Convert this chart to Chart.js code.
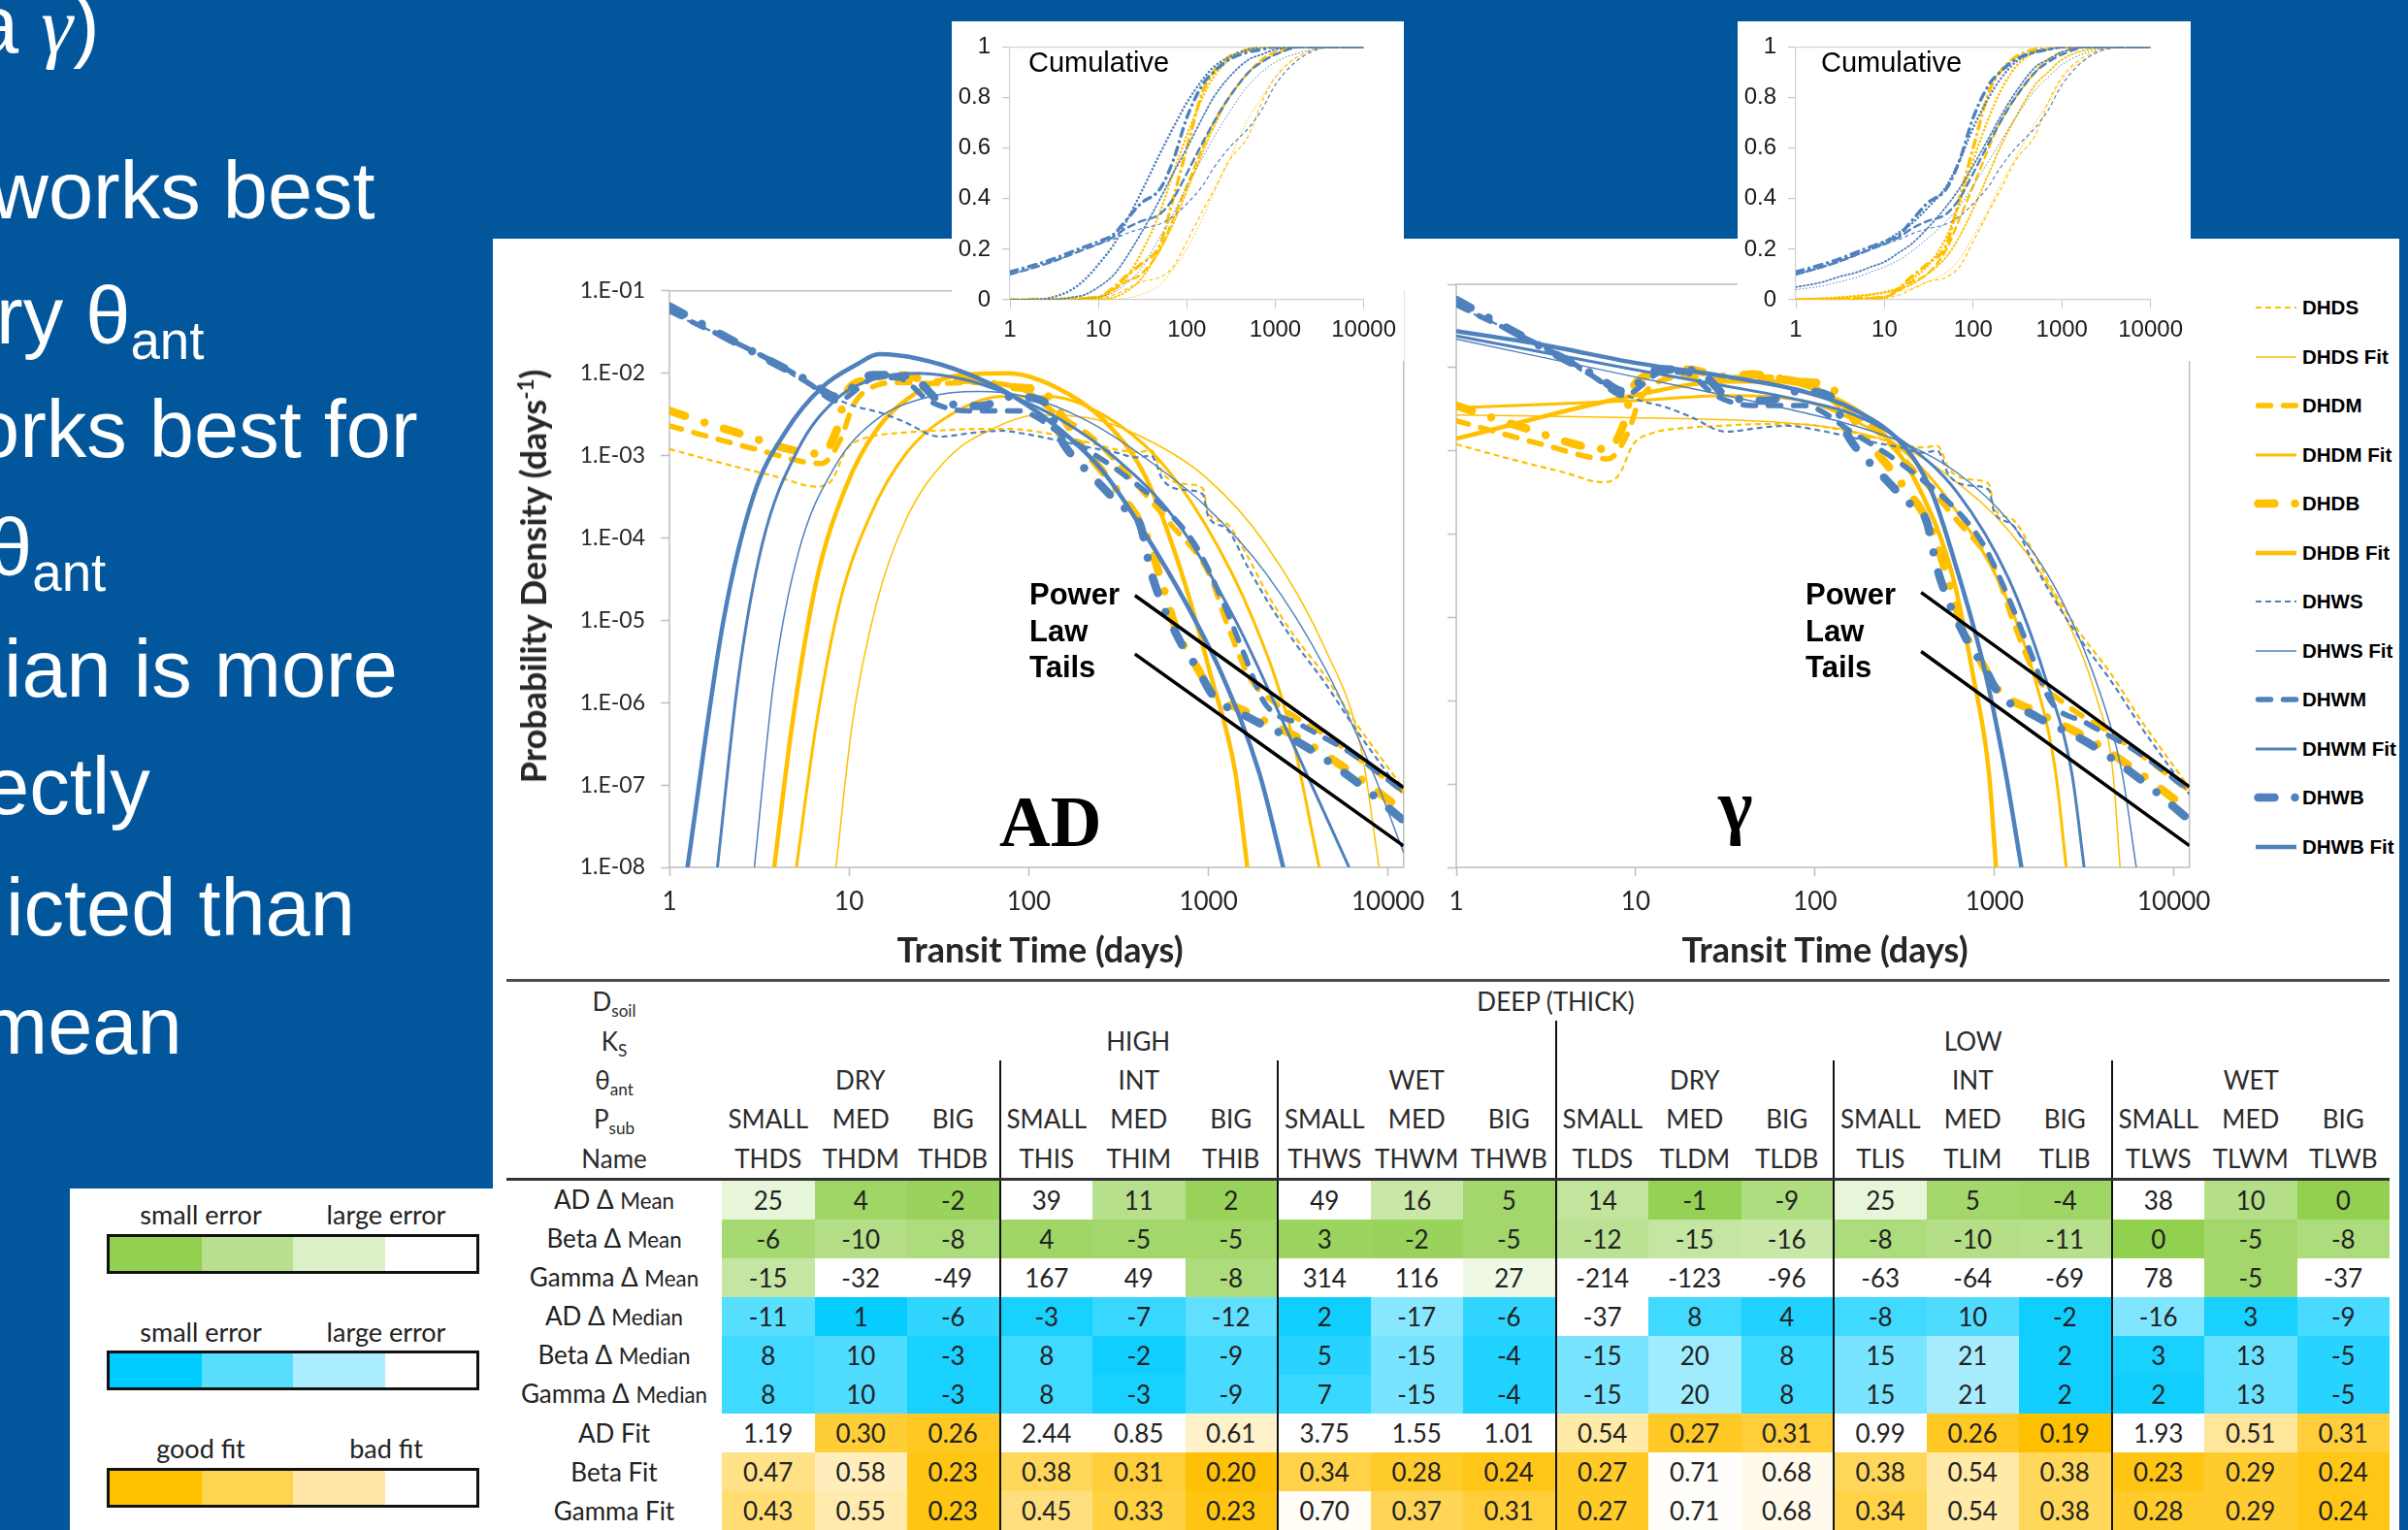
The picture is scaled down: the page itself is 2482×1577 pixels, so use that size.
<!DOCTYPE html>
<html>
<head>
<meta charset="utf-8">
<title>Transit time distributions</title>
<script src="https://cdn.jsdelivr.net/npm/chart.js@4.4.1/dist/chart.umd.min.js"></script>
<style>
  html, body { margin: 0; padding: 0; }
  body { width: 2482px; height: 1577px; background: #02569b; position: relative; overflow: hidden;
         font-family: 'Liberation Sans', Arial, sans-serif; }
  .white { position: absolute; background: #fff; }
  .bullet { position: absolute; color: #fff; font-size: 83px; line-height: 83px; white-space: nowrap; }
  .bullet sub { font-size: 0.66em; vertical-align: -0.3em; line-height: 0; }
  canvas { position: absolute; }
  .axisTitle { position: absolute; font: bold 36px Lato, 'Noto Sans', sans-serif; color: #262626;
               white-space: nowrap; transform: translate(-50%, -50%); }
  .axisTitle sup { font-size: 0.62em; vertical-align: 0.6em; line-height: 0; }
  .power { position: absolute; font: bold 31px/37.5px 'Liberation Sans', Arial, sans-serif; color: #000; }
  .bigLabel { position: absolute; font: bold 73px/73px 'Liberation Serif', 'Times New Roman', serif; color: #000; }
  .cumLabel { position: absolute; font: 29px/29px 'Liberation Sans', Arial, sans-serif; color: #000; }
  .legItem { position: absolute; left: 2320px; height: 30px; display: flex; align-items: center;
             font: bold 20.5px 'Liberation Sans', Arial, sans-serif; color: #000; white-space: nowrap; }
  .legItem svg { width: 52px; height: 30px; flex: none; }
  #tbl { position: absolute; left: 522px; top: 1009px; border-collapse: collapse; table-layout: fixed;
         width: 1941px; font-family: Lato, 'Noto Sans', sans-serif; font-size: 26px; color: #222; }
  #tbl td { padding: 0; text-align: center; white-space: nowrap; height: 40px; line-height: 26px; overflow: hidden; }
  #tbl tr.head td { height: 40.4px; color: #2b2b2b; }
  #tbl tr.first td { border-top: 3px solid #4d4d4d; }
  #tbl tr.names td { border-bottom: 3px solid #333; }
  #tbl tr.last td { border-bottom: 2px solid #7a7a7a; }
  #tbl td.g { border-left: 2.5px solid #111; }
  #tbl sub { font-size: 0.66em; vertical-align: -0.35em; line-height: 0; }
  #tbl .small { font-size: 0.86em; }
  .scaleText { position: absolute; font: 27px/27px Lato, 'Noto Sans', sans-serif; color: #222;
               transform: translateX(-50%); white-space: nowrap; }
  .scaleBar { position: absolute; left: 110px; width: 384px; height: 41px; box-sizing: border-box;
              border: 3px solid #111; display: flex; }
  .scaleBar div { flex: 1; }
</style>
</head>
<body>

<!-- slide text, cut at the left edge -->
<div class="bullet" style="left:-27px; top:-16px;">a <span style="font-family:'Liberation Serif',serif;font-style:italic;">γ</span>)</div>
<div class="bullet" style="left:-10px; top:155px;">works best</div>
<div class="bullet" style="left:-4px; top:284px;">ry θ<sub>ant</sub></div>
<div class="bullet" style="left:-26px; top:401px;">orks best for</div>
<div class="bullet" style="left:-13px; top:523px;">θ<sub>ant</sub></div>
<div class="bullet" style="left:4px; top:648px;">ian is more</div>
<div class="bullet" style="left:-16px; top:769px;">ectly</div>
<div class="bullet" style="left:6px; top:894px;">icted than</div>
<div class="bullet" style="left:-20px; top:1016px;">mean</div>

<!-- white panels -->
<div class="white" style="left:508px; top:246px; width:1965px; height:1331px;"></div>
<div class="white" style="left:72px; top:1225px; width:440px; height:352px;"></div>

<canvas id="adChart" width="920" height="700" style="left:560px; top:270px;"></canvas>
<canvas id="gammaChart" width="820" height="700" style="left:1470px; top:270px;"></canvas>
<canvas id="adCum" width="466" height="350" style="left:981px; top:22px; background:#fff;"></canvas>
<canvas id="gammaCum" width="467" height="350" style="left:1791px; top:22px; background:#fff;"></canvas>

<div class="cumLabel" style="left:1060px; top:50px;">Cumulative</div>
<div class="cumLabel" style="left:1877px; top:50px;">Cumulative</div>

<div class="axisTitle" style="left:549px; top:594px; transform:translate(-50%,-50%) rotate(-90deg);">Probability Density (days<sup>-1</sup>)</div>
<div class="axisTitle" style="left:1072px; top:978px;">Transit Time (days)</div>
<div class="axisTitle" style="left:1881px; top:978px;">Transit Time (days)</div>

<div class="power" style="left:1061px; top:594px;">Power<br>Law<br>Tails</div>
<div class="power" style="left:1861px; top:594px;">Power<br>Law<br>Tails</div>
<div class="bigLabel" style="left:1030px; top:811px;">AD</div>
<div class="bigLabel" style="left:1771px; top:792px; font-size:76px; line-height:76px;">γ</div>

<div id="legend"></div>
<table id="tbl"></table>

<!-- colour keys -->
<div class="scaleText" style="left:207px; top:1238px;">small error</div>
<div class="scaleText" style="left:398px; top:1238px;">large error</div>
<div class="scaleBar" style="top:1272px;"><div style="background:#92d050"></div><div style="background:#b9e08f"></div><div style="background:#dcefc6"></div><div style="background:#fff"></div></div>
<div class="scaleText" style="left:207px; top:1359px;">small error</div>
<div class="scaleText" style="left:398px; top:1359px;">large error</div>
<div class="scaleBar" style="top:1392px;"><div style="background:#00ccff"></div><div style="background:#57deff"></div><div style="background:#aaeeff"></div><div style="background:#fff"></div></div>
<div class="scaleText" style="left:207px; top:1479px;">good fit</div>
<div class="scaleText" style="left:398px; top:1479px;">bad fit</div>
<div class="scaleBar" style="top:1513px;"><div style="background:#ffc000"></div><div style="background:#ffd54f"></div><div style="background:#ffe8a7"></div><div style="background:#fff"></div></div>

<script>
// ---------- chart data ----------
const seriesNames = ['DHDS', 'DHDS Fit', 'DHDM', 'DHDM Fit', 'DHDB', 'DHDB Fit',
                     'DHWS', 'DHWS Fit', 'DHWM', 'DHWM Fit', 'DHWB', 'DHWB Fit'];
const xTickValues = [1, 10, 100, 1000, 10000];
const xTickLabels = ['1', '10', '100', '1000', '10000'];
const yTickValues = [1e-8, 1e-7, 1e-6, 1e-5, 1e-4, 1e-3, 1e-2, 1e-1];
const yTickLabels = ['1.E-08', '1.E-07', '1.E-06', '1.E-05', '1.E-04', '1.E-03', '1.E-02', '1.E-01'];
const cumTickValues = [0, 0.2, 0.4, 0.6, 0.8, 1];
const cumTickLabels = ['0', '0.2', '0.4', '0.6', '0.8', '1'];

// simulated densities (transit time in days, density in 1/days) - same in both panels
const dhdsT = [1, 2, 4, 6.5, 8, 9.7, 12, 20, 30, 50, 80, 120, 200, 300, 400, 480, 560, 760, 930, 1000, 1260, 1650, 2100, 3000, 4400, 6500, 12200];
const dhdsP = [1.2e-3, 8e-4, 5.5e-4, 4.2e-4, 5e-4, 1.2e-3, 1.6e-3, 1.9e-3, 2e-3, 2.1e-3, 2.1e-3, 1.9e-3, 1.5e-3, 1.2e-3, 1.1e-3, 1.15e-3, 6e-4, 4.5e-4, 4e-4, 2e-4, 1.5e-4, 6e-5, 2.2e-5, 6.5e-6, 2.2e-6, 6e-7, 9e-8];
const dhdmT = [1, 3, 7, 9, 10.5, 13.5, 19, 30, 45, 86, 146, 230, 345, 620, 1000, 1300, 1700, 2500, 4500, 12200];
const dhdmP = [2.3e-3, 1.2e-3, 8e-4, 1.6e-3, 4e-3, 6.8e-3, 7.7e-3, 7.5e-3, 7.7e-3, 6.8e-3, 3.1e-3, 1.6e-3, 6.3e-4, 1.45e-4, 3.8e-5, 7.9e-6, 2e-6, 9e-7, 4e-7, 8.3e-8];
const dhdbT = [1, 2.2, 7, 8.5, 9.7, 12.6, 19, 32, 45, 80, 120, 146, 204, 300, 450, 550, 665, 870, 1050, 1700, 3260, 6300, 12200];
const dhdbP = [3.5e-3, 2e-3, 1.05e-3, 2e-3, 5.9e-3, 8.3e-3, 9.5e-3, 7.8e-3, 8.3e-3, 6.8e-3, 6e-3, 3.5e-3, 1.2e-3, 4.2e-4, 1.1e-4, 2.9e-5, 7.6e-6, 2.6e-6, 1.35e-6, 7.4e-7, 3.6e-7, 1.4e-7, 4.8e-8];
const dhwsT = [1, 3, 6, 10, 15, 20, 32, 50, 70, 100, 150, 200, 300, 400, 480, 560, 760, 930, 1000, 1260, 1650, 2100, 3000, 4400, 6500, 12200];
const dhwsP = [0.055, 0.018, 0.0072, 0.0042, 0.0033, 0.0026, 0.0017, 0.0019, 0.002, 0.0018, 0.0015, 0.0013, 1.1e-3, 9.5e-4, 1.0e-3, 5e-4, 3.8e-4, 3.4e-4, 1.8e-4, 1.3e-4, 4.5e-5, 1.8e-5, 5.5e-6, 1.8e-6, 5e-7, 7.5e-8];
const dhwmT = [1, 4.4, 6.1, 8.5, 14.4, 19, 28, 45, 86, 166, 323, 620, 870, 1200, 1580, 2050, 3260, 6300, 12200];
const dhwmP = [0.057, 0.0115, 7.3e-3, 4.6e-3, 8.9e-3, 8.7e-3, 4.6e-3, 3.5e-3, 3.5e-3, 1.6e-3, 6.3e-4, 1.9e-4, 7.4e-5, 1.7e-5, 3.9e-6, 1.0e-6, 5.4e-7, 2.4e-7, 8.3e-8];
const dhwbT = [1, 3.1, 6.1, 8.5, 13.5, 19, 24.5, 32, 54, 80, 120, 156, 230, 323, 417, 480, 710, 870, 1050, 1700, 3260, 6300, 12200];
const dhwbP = [0.065, 0.017, 7.8e-3, 5.2e-3, 9.5e-3, 9.5e-3, 7.8e-3, 4.6e-3, 4e-3, 5.2e-3, 4.6e-3, 1.4e-3, 5.4e-4, 2.5e-4, 1.45e-4, 3.8e-5, 5.1e-6, 2.6e-6, 1.26e-6, 6.5e-7, 3.2e-7, 1.2e-7, 3.7e-8];

// advection-dispersion fits (left panel)
const adDhdsT = [8.45, 10.4, 14.1, 20.7, 35.5, 65.6, 112, 207, 447, 962, 2075, 4467, 7079, 8913];
const adDhdsP = [1e-8, 5.4e-7, 1.5e-5, 1.66e-4, 9.3e-4, 2.2e-3, 3.1e-3, 2.9e-3, 1.6e-3, 5.5e-4, 8.5e-5, 4.5e-6, 2.75e-7, 1e-8];
const adDhdmT = [5.09, 6.56, 8.91, 13.1, 20.7, 38.3, 70.8, 131, 261, 521, 962, 1778, 2818, 4140];
const adDhdmP = [1e-8, 5.4e-7, 1.7e-5, 1.86e-4, 1.05e-3, 3.3e-3, 5.2e-3, 5.2e-3, 3.1e-3, 9.3e-4, 1.45e-4, 1e-5, 5.4e-7, 1e-8];
const adDhdbT = [3.83, 4.82, 6.56, 9.62, 14.1, 24.2, 41.4, 76.4, 141, 261, 447, 708, 1040, 1413, 1648];
const adDhdbP = [1e-8, 5.4e-7, 2.9e-5, 4.2e-4, 2.0e-3, 6.0e-3, 9.5e-3, 1.0e-2, 6.8e-3, 2.7e-3, 5.5e-4, 3.8e-5, 2.0e-6, 1.4e-7, 1e-8];
const adDhwsT = [2.97, 3.83, 5.21, 8.26, 14.1, 28.2, 52.1, 96.2, 207, 447, 962, 2075, 4467, 8260, 12200];
const adDhwsP = [1e-8, 2.0e-6, 6.5e-5, 7.1e-4, 2.7e-3, 5.2e-3, 6.0e-3, 5.2e-3, 2.7e-3, 9.3e-4, 2.45e-4, 3.8e-5, 2.6e-6, 1.4e-7, 1.5e-8];
const adDhwmT = [1.85, 2.42, 3.29, 5.21, 8.26, 14.1, 24.2, 44.7, 82.6, 152, 304, 656, 1413, 3041, 6067];
const adDhwmP = [1e-8, 2.0e-6, 8.5e-5, 1.2e-3, 4.6e-3, 8.7e-3, 1.0e-2, 8.3e-3, 5.2e-3, 2.7e-3, 9.3e-4, 1.66e-4, 1e-5, 2.75e-7, 1e-8];
const adDhwbT = [1.26, 2.0, 2.93, 4.47, 7.1, 11.2, 14.7, 24.2, 44.7, 82.5, 152, 261, 447, 764, 1211, 1919, 2610];
const adDhwbP = [1e-8, 1e-5, 3.2e-4, 2.0e-3, 6.8e-3, 1.3e-2, 1.7e-2, 1.5e-2, 1.0e-2, 5.2e-3, 2.0e-3, 6.3e-4, 1.1e-4, 1.5e-5, 2.0e-6, 1.4e-7, 1e-8];

// gamma fits (right panel)
const gmDhdsT = [1, 9.7, 62, 166, 324, 617, 1200, 2340, 3720, 4570, 5010];
const gmDhdsP = [2.7e-3, 2.5e-3, 2.2e-3, 1.7e-3, 1.05e-3, 4.2e-4, 1.1e-4, 1.3e-5, 1.05e-6, 1.4e-7, 1e-8];
const gmDhdmT = [1, 9.7, 32, 85, 166, 324, 617, 1200, 1660, 2190, 2510];
const gmDhdmP = [3.3e-3, 4.0e-3, 4.6e-3, 4.0e-3, 2.3e-3, 9.3e-4, 1.86e-4, 1.5e-5, 2.0e-6, 1.4e-7, 1e-8];
const gmDhdbT = [1, 9.7, 32, 62, 120, 230, 390, 590, 760, 930, 1020];
const gmDhdbP = [1.4e-3, 4.6e-3, 6.8e-3, 6.8e-3, 4.6e-3, 1.8e-3, 3.2e-4, 2.9e-5, 2.0e-6, 1.4e-7, 1e-8];
const gmDhwsT = [1, 9.7, 32, 85, 166, 324, 617, 1200, 2340, 3980, 5130, 6170];
const gmDhwsP = [2.2e-2, 7.8e-3, 4.6e-3, 2.9e-3, 2.0e-3, 1.2e-3, 5.5e-4, 1.45e-4, 1.7e-5, 1.05e-6, 1.4e-7, 1e-8];
const gmDhwmT = [1, 9.7, 32, 85, 166, 324, 617, 1200, 1905, 2690, 3160];
const gmDhwmP = [2.4e-2, 9.5e-3, 6.0e-3, 4.0e-3, 2.7e-3, 1.2e-3, 3.2e-4, 2.9e-5, 2.0e-6, 1.4e-7, 1e-8];
const gmDhwbT = [1, 3.1, 9.7, 32, 85, 166, 324, 447, 617, 871, 1122, 1413];
const gmDhwbP = [2.75e-2, 1.86e-2, 1.15e-2, 7.8e-3, 5.2e-3, 3.1e-3, 1.05e-3, 3.2e-4, 3.8e-5, 2.6e-6, 1.9e-7, 1e-8];

// power-law guide lines
const powerT = [390, 12200];
const powerUpperP = [2.0e-5, 9.3e-8];
const powerLowerP = [3.9e-6, 1.82e-8];

// cumulative curves (insets)
const cumT = [1, 2, 3, 5, 7, 10, 15, 20, 30, 50, 70, 100, 150, 200, 300, 500, 700, 1000, 2000, 5000, 10000];
const cumDhds = [0, 0.001, 0.002, 0.003, 0.004, 0.006, 0.02, 0.04, 0.07, 0.09, 0.13, 0.23, 0.35, 0.43, 0.55, 0.65, 0.78, 0.88, 0.97, 1, 1];
const cumDhdm = [0, 0.002, 0.003, 0.005, 0.007, 0.01, 0.04, 0.07, 0.1, 0.2, 0.32, 0.45, 0.6, 0.7, 0.8, 0.9, 0.95, 0.98, 1, 1, 1];
const cumDhdb = [0, 0.002, 0.003, 0.005, 0.007, 0.01, 0.05, 0.09, 0.14, 0.22, 0.4, 0.6, 0.82, 0.9, 0.96, 0.99, 1, 1, 1, 1, 1];
const cumDhws = [0.1, 0.13, 0.15, 0.18, 0.2, 0.22, 0.24, 0.26, 0.28, 0.3, 0.33, 0.38, 0.45, 0.52, 0.6, 0.68, 0.75, 0.85, 0.96, 1, 1];
const cumDhwm = [0.1, 0.13, 0.15, 0.18, 0.2, 0.22, 0.25, 0.28, 0.31, 0.34, 0.4, 0.5, 0.62, 0.7, 0.8, 0.9, 0.94, 0.97, 1, 1, 1];
const cumDhwb = [0.11, 0.14, 0.16, 0.19, 0.21, 0.23, 0.26, 0.31, 0.38, 0.44, 0.55, 0.72, 0.85, 0.9, 0.95, 0.98, 0.99, 1, 1, 1, 1];
const cumAdDhds = [0, 0, 0, 0, 0, 0, 0.002, 0.006, 0.02, 0.06, 0.12, 0.2, 0.32, 0.42, 0.55, 0.72, 0.8, 0.88, 0.97, 1, 1];
const cumAdDhdm = [0, 0, 0, 0, 0, 0.003, 0.01, 0.03, 0.08, 0.2, 0.3, 0.43, 0.58, 0.68, 0.8, 0.9, 0.94, 0.97, 1, 1, 1];
const cumAdDhdb = [0, 0, 0, 0, 0.003, 0.01, 0.04, 0.08, 0.18, 0.35, 0.5, 0.65, 0.8, 0.88, 0.95, 0.99, 1, 1, 1, 1, 1];
const cumAdDhws = [0, 0, 0, 0, 0.005, 0.01, 0.03, 0.06, 0.12, 0.25, 0.34, 0.45, 0.56, 0.64, 0.74, 0.85, 0.9, 0.94, 0.98, 1, 1];
const cumAdDhwm = [0, 0, 0, 0.01, 0.02, 0.05, 0.1, 0.16, 0.26, 0.4, 0.5, 0.6, 0.72, 0.8, 0.88, 0.95, 0.97, 0.99, 1, 1, 1];
const cumAdDhwb = [0, 0.001, 0.01, 0.04, 0.08, 0.14, 0.22, 0.3, 0.42, 0.58, 0.68, 0.78, 0.87, 0.92, 0.96, 0.99, 1, 1, 1, 1, 1];
const cumGmDhds = [0.002, 0.005, 0.008, 0.013, 0.018, 0.025, 0.035, 0.045, 0.07, 0.11, 0.16, 0.25, 0.36, 0.45, 0.56, 0.7, 0.78, 0.87, 0.96, 1, 1];
const cumGmDhdm = [0.003, 0.006, 0.01, 0.016, 0.022, 0.03, 0.045, 0.06, 0.1, 0.17, 0.25, 0.36, 0.5, 0.6, 0.72, 0.85, 0.9, 0.95, 0.99, 1, 1];
const cumGmDhdb = [0.002, 0.005, 0.008, 0.015, 0.02, 0.03, 0.05, 0.08, 0.13, 0.25, 0.38, 0.55, 0.72, 0.82, 0.92, 0.98, 0.99, 1, 1, 1, 1];
const cumGmDhws = [0.04, 0.055, 0.07, 0.09, 0.11, 0.13, 0.16, 0.19, 0.24, 0.31, 0.37, 0.45, 0.55, 0.62, 0.72, 0.83, 0.88, 0.93, 0.98, 1, 1];
const cumGmDhwm = [0.05, 0.07, 0.09, 0.11, 0.13, 0.15, 0.19, 0.22, 0.28, 0.37, 0.44, 0.53, 0.64, 0.72, 0.82, 0.92, 0.95, 0.98, 1, 1, 1];
const cumGmDhwb = [0.1, 0.13, 0.15, 0.18, 0.2, 0.23, 0.27, 0.3, 0.36, 0.45, 0.55, 0.68, 0.8, 0.87, 0.94, 0.98, 0.99, 1, 1, 1, 1];

// ---------- table data ----------
const runNames = ['THDS', 'THDM', 'THDB', 'THIS', 'THIM', 'THIB', 'THWS', 'THWM', 'THWB',
                  'TLDS', 'TLDM', 'TLDB', 'TLIS', 'TLIM', 'TLIB', 'TLWS', 'TLWM', 'TLWB'];
const thetaGroups = ['DRY', 'INT', 'WET', 'DRY', 'INT', 'WET'];
const pulseSizes = ['SMALL', 'MED', 'BIG'];
const adMean = [25, 4, -2, 39, 11, 2, 49, 16, 5, 14, -1, -9, 25, 5, -4, 38, 10, 0];
const betaMean = [-6, -10, -8, 4, -5, -5, 3, -2, -5, -12, -15, -16, -8, -10, -11, 0, -5, -8];
const gammaMean = [-15, -32, -49, 167, 49, -8, 314, 116, 27, -214, -123, -96, -63, -64, -69, 78, -5, -37];
const adMedian = [-11, 1, -6, -3, -7, -12, 2, -17, -6, -37, 8, 4, -8, 10, -2, -16, 3, -9];
const betaMedian = [8, 10, -3, 8, -2, -9, 5, -15, -4, -15, 20, 8, 15, 21, 2, 3, 13, -5];
const gammaMedian = [8, 10, -3, 8, -3, -9, 7, -15, -4, -15, 20, 8, 15, 21, 2, 2, 13, -5];
const adFit = [1.19, 0.30, 0.26, 2.44, 0.85, 0.61, 3.75, 1.55, 1.01, 0.54, 0.27, 0.31, 0.99, 0.26, 0.19, 1.93, 0.51, 0.31];
const betaFit = [0.47, 0.58, 0.23, 0.38, 0.31, 0.20, 0.34, 0.28, 0.24, 0.27, 0.71, 0.68, 0.38, 0.54, 0.38, 0.23, 0.29, 0.24];
const gammaFit = [0.43, 0.55, 0.23, 0.45, 0.33, 0.23, 0.70, 0.37, 0.31, 0.27, 0.71, 0.68, 0.34, 0.54, 0.38, 0.28, 0.29, 0.24];

// ---------- styles ----------
const yellow = '#FFC000';
const blue = '#4F81BD';
const styles = {
  'DHDS':     { color: yellow, w: 2.2, dash: [6, 4] },
  'DHDS Fit': { color: yellow, w: 1.5 },
  'DHDM':     { color: yellow, w: 5.5, dash: [13, 13], cap: 'round' },
  'DHDM Fit': { color: yellow, w: 3 },
  'DHDB':     { color: yellow, w: 8.5, dash: [17, 21, 0.01, 21], cap: 'round' },
  'DHDB Fit': { color: yellow, w: 4.5 },
  'DHWS':     { color: blue, w: 2.2, dash: [6, 4] },
  'DHWS Fit': { color: blue, w: 1.5 },
  'DHWM':     { color: blue, w: 5.5, dash: [13, 13], cap: 'round' },
  'DHWM Fit': { color: blue, w: 3 },
  'DHWB':     { color: blue, w: 8.5, dash: [17, 21, 0.01, 21], cap: 'round' },
  'DHWB Fit': { color: blue, w: 4.5 }
};
const insetStyles = {
  'DHDS':     { color: yellow, w: 1.2, dash: [4, 3] },
  'DHDS Fit': { color: yellow, w: 1, dash: [1.5, 2] },
  'DHDM':     { color: yellow, w: 2.4, dash: [7, 5], cap: 'round' },
  'DHDM Fit': { color: yellow, w: 1.8, dash: [1.5, 2.5], cap: 'round' },
  'DHDB':     { color: yellow, w: 3.4, dash: [8, 6, 0.01, 6], cap: 'round' },
  'DHDB Fit': { color: yellow, w: 2.6, dash: [0.01, 4], cap: 'round' },
  'DHWS':     { color: blue, w: 1.2, dash: [4, 3] },
  'DHWS Fit': { color: blue, w: 1, dash: [1.5, 2] },
  'DHWM':     { color: blue, w: 2.4, dash: [7, 5], cap: 'round' },
  'DHWM Fit': { color: blue, w: 1.8, dash: [1.5, 2.5], cap: 'round' },
  'DHWB':     { color: blue, w: 3.4, dash: [8, 6, 0.01, 6], cap: 'round' },
  'DHWB Fit': { color: blue, w: 2.6, dash: [0.01, 4], cap: 'round' }
};

const xTickFont = { family: 'Lato, "Noto Sans", sans-serif', size: 26 };
const yTickFont = { family: 'Lato, "Noto Sans", sans-serif', size: 23 };
const insetFont = { family: '"Liberation Sans", Arial, sans-serif', size: 24 };

const frame = {
  id: 'frame',
  beforeDatasetsDraw(chart, args, opts) {
    const a = chart.chartArea;
    const c = chart.ctx;
    c.save();
    c.strokeStyle = opts.color;
    c.lineWidth = opts.width;
    c.strokeRect(a.left, a.top, a.right - a.left, a.bottom - a.top);
    c.restore();
  }
};

const makeLine = (label, xs, ys, st, order) => ({
  label,
  data: xs.map((x, i) => ({ x, y: ys[i] })),
  borderColor: st.color,
  borderWidth: st.w,
  borderDash: st.dash || [],
  borderCapStyle: st.cap || 'butt',
  borderJoinStyle: 'round',
  pointRadius: 0,
  fill: false,
  cubicInterpolationMode: 'monotone',
  clip: 0,
  order
});

const mainChart = (id, fits, yAxisWidth, showYLabels) => {
  const series = [
    [dhdsT, dhdsP], fits[0], [dhdmT, dhdmP], fits[1], [dhdbT, dhdbP], fits[2],
    [dhwsT, dhwsP], fits[3], [dhwmT, dhwmP], fits[4], [dhwbT, dhwbP], fits[5]
  ];
  const datasets = series.map((s, i) => makeLine(seriesNames[i], s[0], s[1], styles[seriesNames[i]], -i));
  datasets.push(makeLine('upper tail', powerT, powerUpperP, { color: '#000', w: 3.5 }, -100));
  datasets.push(makeLine('lower tail', powerT, powerLowerP, { color: '#000', w: 3.5 }, -100));

  return new Chart(document.getElementById(id), {
    type: 'line',
    data: { datasets },
    plugins: [frame],
    options: {
      responsive: false,
      animation: false,
      devicePixelRatio: 1,
      layout: { padding: { top: 23, right: 27, left: 0, bottom: 0 } },
      plugins: { legend: { display: false }, tooltip: { enabled: false }, frame: { color: '#BFBFBF', width: 1.5 } },
      scales: {
        x: {
          type: 'logarithmic', min: 1, max: 12200,
          afterBuildTicks: s => { s.ticks = xTickValues.map(v => ({ value: v })); },
          afterFit: s => { s.height = 76; },
          ticks: { callback: (v, i) => xTickLabels[i], font: xTickFont, color: '#262626', padding: 11, maxRotation: 0, autoSkip: false },
          grid: { drawOnChartArea: false, tickLength: 9, tickColor: '#BFBFBF', tickWidth: 1.5 },
          border: { display: false }
        },
        y: {
          type: 'logarithmic', min: 1e-8, max: 0.1,
          afterBuildTicks: s => { s.ticks = yTickValues.map(v => ({ value: v })); },
          afterFit: s => { s.width = yAxisWidth; },
          ticks: { display: showYLabels, callback: (v, i) => yTickLabels[i], font: yTickFont, color: '#262626', padding: 16, autoSkip: false },
          grid: { drawOnChartArea: false, tickLength: 9, tickColor: '#BFBFBF', tickWidth: 1.5 },
          border: { display: false }
        }
      }
    }
  });
};

const cumChart = (id, fits, rightPad) => {
  const series = [cumDhds, fits[0], cumDhdm, fits[1], cumDhdb, fits[2],
                  cumDhws, fits[3], cumDhwm, fits[4], cumDhwb, fits[5]];
  const datasets = series.map((ys, i) => makeLine(seriesNames[i], cumT, ys, insetStyles[seriesNames[i]], -i));
  return new Chart(document.getElementById(id), {
    type: 'line',
    data: { datasets },
    options: {
      responsive: false,
      animation: false,
      devicePixelRatio: 1,
      layout: { padding: { top: 15, right: rightPad, left: 0, bottom: 0 } },
      plugins: { legend: { display: false }, tooltip: { enabled: false } },
      scales: {
        x: {
          type: 'logarithmic', min: 1, max: 10000,
          afterBuildTicks: s => { s.ticks = xTickValues.map(v => ({ value: v })); },
          afterFit: s => { s.height = 63; },
          ticks: { callback: (v, i) => xTickLabels[i], font: insetFont, color: '#1a1a1a', padding: 8, maxRotation: 0, autoSkip: false },
          grid: { drawOnChartArea: false, tickLength: 9, tickColor: '#C8C8C8' },
          border: { color: '#D0D0D0', width: 1.2 }
        },
        y: {
          min: 0, max: 1,
          afterBuildTicks: s => { s.ticks = cumTickValues.map(v => ({ value: v })); },
          afterFit: s => { s.width = 60; },
          ticks: { callback: (v, i) => cumTickLabels[i], font: insetFont, color: '#1a1a1a', padding: 12, autoSkip: false },
          grid: { color: c => (c.tick && c.tick.value === 1 ? '#D6D6D6' : 'rgba(0,0,0,0)'), lineWidth: 1.2,
                  tickLength: 8, tickColor: '#C8C8C8' },
          border: { color: '#D0D0D0', width: 1.2 }
        }
      }
    }
  });
};

mainChart('adChart', [[adDhdsT, adDhdsP], [adDhdmT, adDhdmP], [adDhdbT, adDhdbP],
                      [adDhwsT, adDhwsP], [adDhwmT, adDhwmP], [adDhwbT, adDhwbP]], 130, true);
mainChart('gammaChart', [[gmDhdsT, gmDhdsP], [gmDhdmT, gmDhdmP], [gmDhdbT, gmDhdbP],
                         [gmDhwsT, gmDhwsP], [gmDhwmT, gmDhwmP], [gmDhwbT, gmDhwbP]], 31, false);
cumChart('adCum', [cumAdDhds, cumAdDhdm, cumAdDhdb, cumAdDhws, cumAdDhwm, cumAdDhwb], 38);
cumChart('gammaCum', [cumGmDhds, cumGmDhdm, cumGmDhdb, cumGmDhws, cumGmDhwm, cumGmDhwb], 39);

// ---------- legend ----------
const legend = document.getElementById('legend');
seriesNames.forEach((name, i) => {
  const st = styles[name];
  const item = document.createElement('div');
  item.className = 'legItem';
  item.style.top = (317 + i * 50.5 - 15) + 'px';
  const x1 = st.cap === 'round' ? 7.5 : 5;
  const dash = st.dash ? st.dash.join(' ') : 'none';
  item.innerHTML =
    '<svg viewBox="0 0 52 30"><line x1="' + x1 + '" y1="15" x2="47" y2="15" stroke="' + st.color +
    '" stroke-width="' + st.w + '" stroke-dasharray="' + dash + '" stroke-linecap="' + (st.cap || 'butt') +
    '"/></svg><span style="margin-left:1px">' + name + '</span>';
  legend.appendChild(item);
});

// ---------- table ----------
const mix = (hex, f) => {
  const n = parseInt(hex.slice(1), 16);
  const ch = [(n >> 16) & 255, (n >> 8) & 255, n & 255].map(c => Math.round(c + (255 - c) * f));
  return 'rgb(' + ch.join(',') + ')';
};
const clamp = v => Math.max(0, Math.min(1, v));
const greenCell = v => mix('#92D050', clamp(Math.abs(v) / 32));
const blueCell = v => mix('#00CCFF', clamp(Math.abs(v) / 32));
const goldCell = v => mix('#FFC000', clamp((v - 0.19) / 0.53));

const sep = i => (i > 0 && i % 3 === 0 ? ' class="g"' : '');
let html = '<colgroup><col style="width:222px">' + runNames.map(() => '<col style="width:95.5px">').join('') + '</colgroup>';
html += '<tr class="head first"><td>D<sub>soil</sub></td><td colspan="18">DEEP (THICK)</td></tr>';
html += '<tr class="head"><td>K<sub>S</sub></td><td colspan="9">HIGH</td><td colspan="9" class="g">LOW</td></tr>';
html += '<tr class="head"><td>θ<sub>ant</sub></td>' +
        thetaGroups.map((g, i) => '<td colspan="3"' + (i > 0 ? ' class="g"' : '') + '>' + g + '</td>').join('') + '</tr>';
html += '<tr class="head"><td>P<sub>sub</sub></td>' +
        runNames.map((n, i) => '<td' + sep(i) + '>' + pulseSizes[i % 3] + '</td>').join('') + '</tr>';
html += '<tr class="head names"><td>Name</td>' +
        runNames.map((n, i) => '<td' + sep(i) + '>' + n + '</td>').join('') + '</tr>';

const rows = [
  ['AD Δ', 'Mean', adMean, greenCell, v => String(v)],
  ['Beta Δ', 'Mean', betaMean, greenCell, v => String(v)],
  ['Gamma Δ', 'Mean', gammaMean, greenCell, v => String(v)],
  ['AD Δ', 'Median', adMedian, blueCell, v => String(v)],
  ['Beta Δ', 'Median', betaMedian, blueCell, v => String(v)],
  ['Gamma Δ', 'Median', gammaMedian, blueCell, v => String(v)],
  ['AD Fit', '', adFit, goldCell, v => v.toFixed(2)],
  ['Beta Fit', '', betaFit, goldCell, v => v.toFixed(2)],
  ['Gamma Fit', '', gammaFit, goldCell, v => v.toFixed(2)]
];
rows.forEach((r, k) => {
  const label = r[0] + (r[1] ? ' <span class="small">' + r[1] + '</span>' : '');
  html += '<tr' + (k === rows.length - 1 ? ' class="last"' : '') + '><td>' + label + '</td>' +
          r[2].map((v, i) => '<td' + sep(i) + ' style="background:' + r[3](v) + '">' + r[4](v) + '</td>').join('') + '</tr>';
});
document.getElementById('tbl').innerHTML = html;
</script>
</body>
</html>
